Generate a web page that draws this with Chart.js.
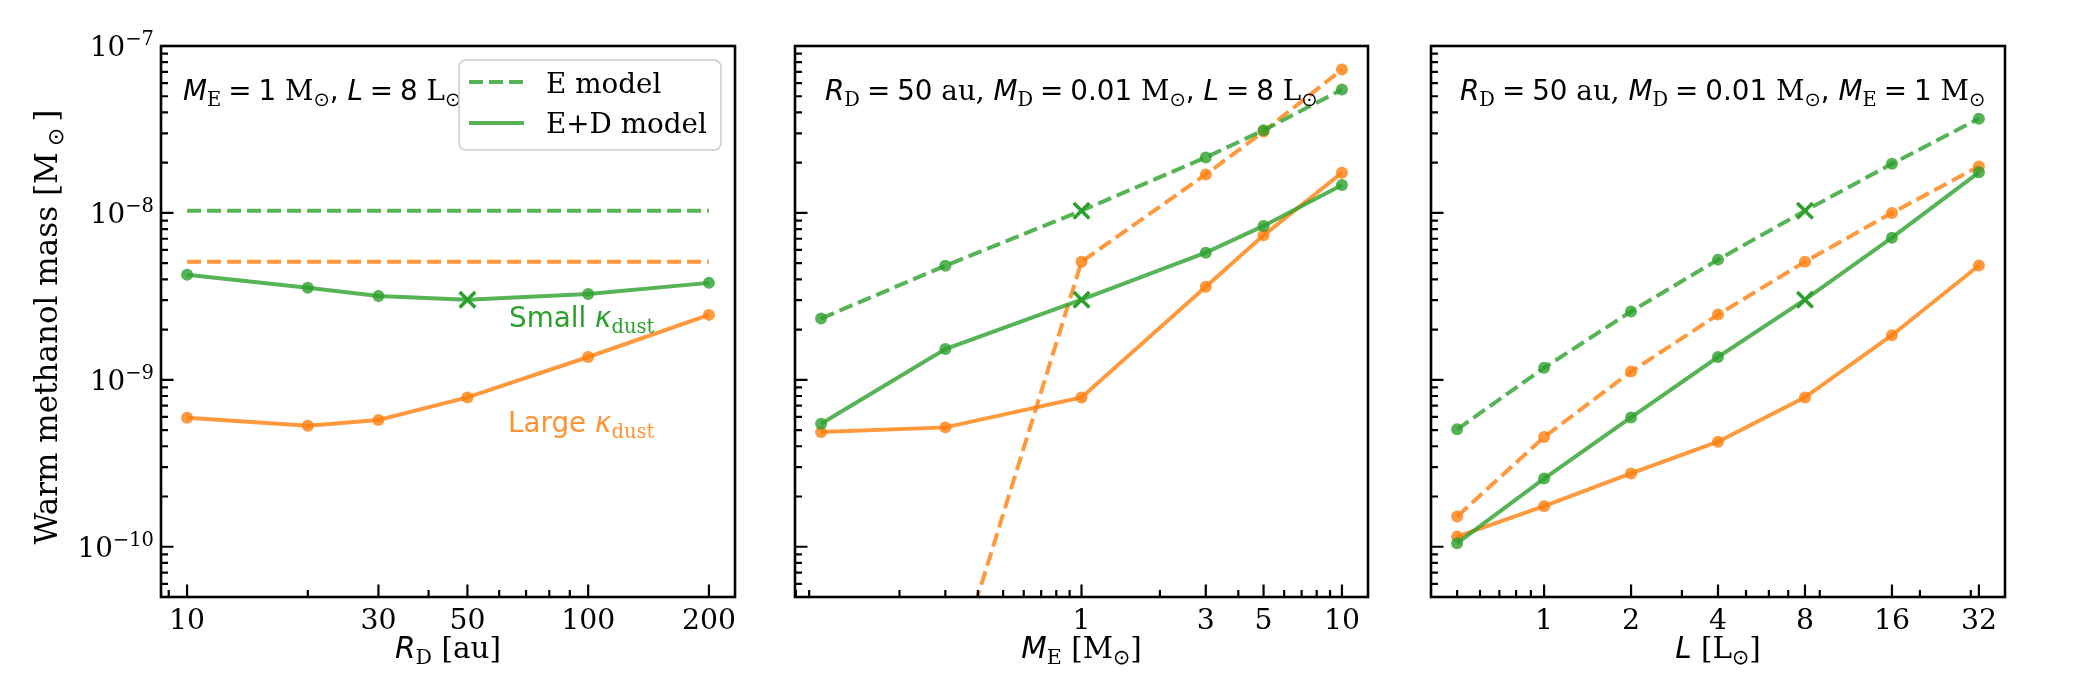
<!DOCTYPE html>
<html>
<head>
<meta charset="utf-8">
<script src="https://cdn.jsdelivr.net/npm/chart.js@4.4.1/dist/chart.umd.min.js"></script>
<style>
  body { margin: 0; background: #fff; }
  #wrap { position: relative; width: 2100px; height: 700px; }
  canvas { position: absolute; top: 0; }
</style>
</head>
<body>
<div id="wrap">
  <canvas id="panelR" width="760" height="700" style="left:0px"></canvas>
  <canvas id="panelM" width="640" height="700" style="left:760px"></canvas>
  <canvas id="panelL" width="700" height="700" style="left:1400px"></canvas>
</div>
<script>
// ---- data ----
const rdValues = [10, 20, 30, 50, 100, 200];
const rdEGreen = [1.03e-8, 1.03e-8, 1.03e-8, 1.03e-8, 1.03e-8, 1.03e-8];
const rdEOrange = [5.1e-9, 5.1e-9, 5.1e-9, 5.1e-9, 5.1e-9, 5.1e-9];
const rdEDGreen = [4.26e-9, 3.56e-9, 3.18e-9, 3.02e-9, 3.27e-9, 3.81e-9];
const rdEDOrange = [5.92e-10, 5.3e-10, 5.75e-10, 7.85e-10, 1.37e-9, 2.45e-9];

const meValues = [0.1, 0.3, 1, 3, 5, 10];
const meEGreen = [2.33e-9, 4.83e-9, 1.03e-8, 2.15e-8, 3.13e-8, 5.48e-8];
const meEOrange = [1e-12, 1.2e-11, 5.1e-9, 1.70e-8, 3.07e-8, 7.23e-8];
const meEDGreen = [5.45e-10, 1.53e-9, 3.02e-9, 5.78e-9, 8.36e-9, 1.47e-8];
const meEDOrange = [4.87e-10, 5.19e-10, 7.85e-10, 3.61e-9, 7.34e-9, 1.74e-8];

const lValues = [0.5, 1, 2, 4, 8, 16, 32];
const lEGreen = [5.05e-10, 1.18e-9, 2.57e-9, 5.25e-9, 1.03e-8, 1.97e-8, 3.67e-8];
const lEOrange = [1.52e-10, 4.54e-10, 1.12e-9, 2.46e-9, 5.1e-9, 1.0e-8, 1.9e-8];
const lEDGreen = [1.05e-10, 2.56e-10, 5.95e-10, 1.37e-9, 3.02e-9, 7.11e-9, 1.75e-8];
const lEDOrange = [1.15e-10, 1.75e-10, 2.75e-10, 4.26e-10, 7.85e-10, 1.85e-9, 4.84e-9];

// ---- ticks ----
const rdTicks = [10, 30, 50, 100, 200];
const rdTickLabels = ['10', '30', '50', '100', '200'];
const meTicks = [1, 3, 5, 10];
const meTickLabels = ['1', '3', '5', '10'];
const lTicks = [1, 2, 4, 8, 16, 32];
const lTickLabels = ['1', '2', '4', '8', '16', '32'];
const yTicks = [1e-10, 1e-9, 1e-8, 1e-7];
const yTickExponents = ['\u221210', '\u22129', '\u22128', '\u22127'];

const Y_MIN = 5e-11, Y_MAX = 1e-7;
const PLOT_TOP = 46, PLOT_BOTTOM = 597, CANVAS_H = 700;

const GREEN = 'rgba(44,160,44,0.8)';
const ORANGE = 'rgba(255,127,14,0.8)';
const CROSS = '#2ca02c';

const FS = 27.8, SUBFS = 19.5;
const fItal = `italic ${FS}px "DejaVu Sans"`;
const fSans = `${FS}px "DejaVu Sans"`;
const fSerif = `${FS}px "DejaVu Serif"`;
const fSub = `${SUBFS}px "DejaVu Serif"`;
const fSym = `${SUBFS}px "DejaVu Sans"`;
// axis titles are a bit bigger than the ticks
const TFS = 29.5, TSUB = 20.6;
const tItal = `italic ${TFS}px "DejaVu Sans"`;
const tSerif = `${TFS}px "DejaVu Serif"`;
const tSub = `${TSUB}px "DejaVu Serif"`;
const tSym = `${TSUB}px "DejaVu Sans"`;
const SUBDY = 6;
const EQ = '\u2005=\u2005';

function logMinors(min, max) {
  const out = [];
  for (let e = Math.floor(Math.log10(min)); e <= Math.ceil(Math.log10(max)); e++) {
    for (let m = 2; m <= 9; m++) {
      const v = m * Math.pow(10, e);
      if (v >= min && v <= max) out.push(v);
    }
  }
  return out;
}

function drawRich(ctx, parts, x, y, align) {
  let w = 0;
  for (const p of parts) { ctx.font = p[1]; w += ctx.measureText(p[0]).width; }
  let cx = align === 'center' ? x - w / 2 : (align === 'right' ? x - w : x);
  ctx.textAlign = 'left';
  ctx.textBaseline = 'alphabetic';
  for (const p of parts) {
    ctx.font = p[1];
    ctx.fillText(p[0], cx, y + (p[2] || 0));
    cx += ctx.measureText(p[0]).width;
  }
}

function series(xs, ys, color, dashed, refIndex, showPoints) {
  const isRef = c => c.dataIndex === refIndex;
  return {
    data: xs.map((x, i) => ({ x: x, y: ys[i] })),
    borderColor: color,
    backgroundColor: color,
    borderWidth: 4,
    borderDash: dashed ? [14, 6] : [],
    tension: 0,
    fill: false,
    pointStyle: c => isRef(c) ? 'crossRot' : 'circle',
    pointRadius: c => !showPoints ? 0 : (isRef(c) ? 11 : 6),
    pointBorderWidth: c => isRef(c) ? 3.5 : 0,
    pointBorderColor: c => isRef(c) ? CROSS : color,
    pointBackgroundColor: color,
    pointHoverRadius: 0
  };
}

function decor(cfg) {
  return {
    id: 'decor',
    afterDraw(chart) {
      const { ctx, chartArea: a, scales: { x, y } } = chart;
      ctx.save();
      // inward ticks
      ctx.strokeStyle = '#000';
      ctx.lineWidth = 2.2;
      ctx.beginPath();
      const xMin = chart.options.scales.x.min, xMax = chart.options.scales.x.max;
      for (const v of cfg.xMajor) {
        const px = x.getPixelForValue(v);
        ctx.moveTo(px, a.bottom); ctx.lineTo(px, a.bottom - 12.5);
      }
      for (const v of logMinors(xMin, xMax)) {
        const px = x.getPixelForValue(v);
        ctx.moveTo(px, a.bottom); ctx.lineTo(px, a.bottom - 7);
      }
      for (const v of yTicks) {
        const py = y.getPixelForValue(v);
        ctx.moveTo(a.left, py); ctx.lineTo(a.left + 12.5, py);
      }
      for (const v of logMinors(Y_MIN, Y_MAX)) {
        const py = y.getPixelForValue(v);
        ctx.moveTo(a.left, py); ctx.lineTo(a.left + 7, py);
      }
      ctx.stroke();
      // frame
      ctx.lineWidth = 2.6;
      ctx.strokeRect(a.left, a.top, a.right - a.left, a.bottom - a.top);

      ctx.fillStyle = '#000';
      // y tick labels + y title on the first panel only
      if (cfg.yLabels) {
        yTicks.forEach((v, i) => {
          const py = y.getPixelForValue(v);
          drawRich(ctx, [['10', fSerif], [yTickExponents[i], fSub, -11]], a.left - 7, py + 10, 'right');
        });
        ctx.save();
        ctx.translate(57, 327);
        ctx.rotate(-Math.PI / 2);
        const yf = '31px "DejaVu Serif"', ys = '21.7px "DejaVu Sans"';
        drawRich(ctx, [['Warm methanol mass [M\u2009', yf], ['\u2299', ys, SUBDY], ['\u2009]', yf]], 0, 0, 'center');
        ctx.restore();
      }
      // x title
      drawRich(ctx, cfg.xTitle, (a.left + a.right) / 2, 658, 'center');
      // parameter note
      drawRich(ctx, cfg.note, a.left + cfg.noteDx, 100, 'left');

      if (cfg.legend) {
        const lx = a.left + 298, ly = 60, lw = 262, lh = 90, r = 7;
        ctx.beginPath();
        ctx.roundRect(lx, ly, lw, lh, r);
        ctx.fillStyle = 'rgba(255,255,255,0.8)';
        ctx.fill();
        ctx.strokeStyle = 'rgb(204,204,204)';
        ctx.lineWidth = 1.5;
        ctx.stroke();
        ctx.strokeStyle = GREEN;
        ctx.lineWidth = 4;
        ctx.setLineDash([14, 6]);
        ctx.beginPath(); ctx.moveTo(lx + 10, 82); ctx.lineTo(lx + 65, 82); ctx.stroke();
        ctx.setLineDash([]);
        ctx.beginPath(); ctx.moveTo(lx + 10, 123); ctx.lineTo(lx + 65, 123); ctx.stroke();
        ctx.fillStyle = '#000';
        drawRich(ctx, [['E model', fSerif]], lx + 87, 93, 'left');
        drawRich(ctx, [['E+D model', fSerif]], lx + 87, 133, 'left');
      }
      if (cfg.kappa) {
        ctx.fillStyle = '#2ca02c';
        drawRich(ctx, [['Small ', fSans], ['\u03ba', fItal], ['dust', fSub, SUBDY]], a.left + 348, 327, 'left');
        ctx.fillStyle = 'rgba(255,127,14,0.85)';
        drawRich(ctx, [['Large ', fSans], ['\u03ba', fItal], ['dust', fSub, SUBDY]], a.left + 347, 432, 'left');
      }
      ctx.restore();
    }
  };
}

function makePanel(id, xs, sets, refIndex, xMin, xMax, majors, labels, padL, padR, cfg, ePoints) {
  new Chart(document.getElementById(id), {
    type: 'line',
    data: {
      datasets: [
        series(xs, sets[0], GREEN, true, refIndex, ePoints),
        series(xs, sets[1], GREEN, false, refIndex, true),
        series(xs, sets[2], ORANGE, true, -1, ePoints),
        series(xs, sets[3], ORANGE, false, -1, true)
      ]
    },
    options: {
      responsive: false,
      animation: false,
      events: [],
      layout: { padding: { left: padL, right: padR, top: PLOT_TOP, bottom: 0 } },
      plugins: { legend: { display: false }, tooltip: { enabled: false } },
      scales: {
        x: {
          type: 'logarithmic', position: 'bottom', min: xMin, max: xMax, bounds: 'data',
          grid: { display: false }, border: { display: false },
          afterBuildTicks: s => { s.ticks = majors.map(v => ({ value: v })); },
          afterFit: s => { s.height = CANVAS_H - PLOT_BOTTOM; },
          ticks: {
            autoSkip: false, maxRotation: 0, minRotation: 0, padding: 0, color: '#000',
            font: { family: 'DejaVu Serif', size: 28.3 },
            callback: (v, i) => labels[i]
          }
        },
        y: { type: 'logarithmic', display: false, min: Y_MIN, max: Y_MAX, bounds: 'data' }
      }
    },
    plugins: [decor(Object.assign({ xMajor: majors }, cfg))]
  });
}

makePanel('panelR', rdValues, [rdEGreen, rdEDGreen, rdEOrange, rdEDOrange], 3,
  8.61, 232.3, rdTicks, rdTickLabels, 161, 25, {
    yLabels: true, legend: true, kappa: true, noteDx: 22,
    xTitle: [['R', tItal], ['D', tSub, SUBDY], [' [au]', tSerif]],
    note: [['M', fItal], ['E', fSub, SUBDY], [EQ + '1 ', fSans], ['M', fSerif], ['\u2299', fSym, SUBDY],
      [', ', fSans], ['L', fItal], [EQ + '8 ', fSans], ['L', fSerif], ['\u2299', fSym, SUBDY]]
  }, false);

makePanel('panelM', meValues, [meEGreen, meEDGreen, meEOrange, meEDOrange], 2,
  0.0794, 12.59, meTicks, meTickLabels, 35, 32, {
    noteDx: 30,
    xTitle: [['M', tItal], ['E', tSub, SUBDY], [' [M', tSerif], ['\u2299', tSym, SUBDY], [']', tSerif]],
    note: [['R', fItal], ['D', fSub, SUBDY], [EQ + '50 ', fSans], ['au, ', fSerif],
      ['M', fItal], ['D', fSub, SUBDY], [EQ + '0.01 ', fSans], ['M', fSerif], ['\u2299', fSym, SUBDY],
      [', ', fSans], ['L', fItal], [EQ + '8 ', fSans], ['L', fSerif], ['\u2299', fSym, SUBDY]]
  }, true);

makePanel('panelL', lValues, [lEGreen, lEDGreen, lEOrange, lEDOrange], 4,
  0.406, 39.4, lTicks, lTickLabels, 31, 95, {
    noteDx: 29,
    xTitle: [['L', tItal], [' [L', tSerif], ['\u2299', tSym, SUBDY], [']', tSerif]],
    note: [['R', fItal], ['D', fSub, SUBDY], [EQ + '50 ', fSans], ['au, ', fSerif],
      ['M', fItal], ['D', fSub, SUBDY], [EQ + '0.01 ', fSans], ['M', fSerif], ['\u2299', fSym, SUBDY],
      [', ', fSans], ['M', fItal], ['E', fSub, SUBDY], [EQ + '1 ', fSans], ['M', fSerif], ['\u2299', fSym, SUBDY]]
  }, true);
</script>
</body>
</html>
